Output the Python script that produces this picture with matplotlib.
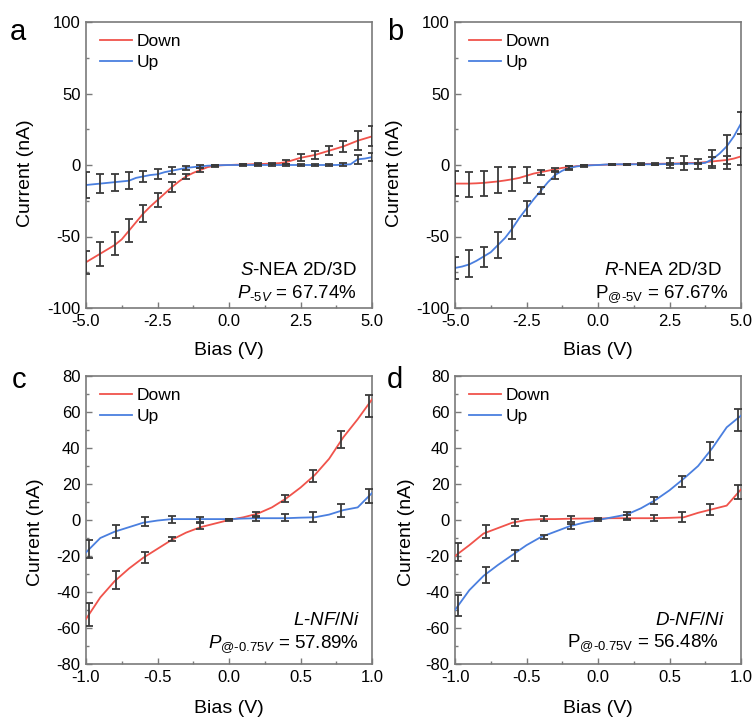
import numpy as np
import matplotlib
matplotlib.use("Agg")
import matplotlib.pyplot as plt
from matplotlib.ticker import MultipleLocator, FormatStrFormatter

plt.rcParams['font.family'] = ['Liberation Sans', 'DejaVu Sans']
plt.rcParams['mathtext.fontset'] = 'custom'
plt.rcParams['mathtext.rm'] = 'Liberation Sans'
plt.rcParams['mathtext.it'] = 'Liberation Sans:italic'
plt.rcParams['mathtext.bf'] = 'Liberation Sans:bold'
plt.rcParams['axes.unicode_minus'] = False

# ---------------- data ----------------
# Panel a (S-NEA 2D/3D)
a_x = [-5.0, -4.75, -4.5, -4.25, -4.0, -3.75, -3.5, -3.25, -3.0, -2.75, -2.5, -2.25, -2.0, -1.75, -1.5,
       -1.25, -1.0, -0.75, -0.5, -0.25, 0.0, 0.25, 0.5, 0.75, 1.0, 1.25, 1.5, 1.75, 2.0, 2.25, 2.5,
       2.75, 3.0, 3.25, 3.5, 3.75, 4.0, 4.25, 4.5, 4.75, 5.0]
a_down = [-68, -65, -62, -59, -56, -52, -46, -40, -34, -29, -24.5, -20, -15.5, -11.5, -8,
          -5.5, -3.5, -1.5, -0.5, -0.2, 0, 0.2, 0.3, 0.5, 0.7, 0.8, 1.0, 1.3, 2.0, 3.5, 5.0,
          6.0, 7.0, 8.5, 10.0, 11.5, 13.0, 15.0, 17.0, 18.5, 20.0]
a_up = [-14, -13.5, -13, -12.5, -12, -11.5, -11, -9, -8, -7, -6.5, -5, -4, -3, -2,
        -1.5, -1, -0.5, -0.3, -0.1, 0, 0, 0, 0, 0, 0, 0, 0, 0, 0, 0,
        0, 0, 0, 0, 0, 0.2, 0.5, 4.0, 4.5, 5.5]
a_bx = [-5.0, -4.5, -4.0, -3.5, -3.0, -2.5, -2.0, -1.5, -1.0, -0.5, 0.5, 1.0, 1.5, 2.0, 2.5, 3.0,
        3.5, 4.0, 4.5, 5.0]
a_down_m = [-68, -62, -55, -46, -34, -24.5, -15.5, -8, -3.5, -0.5, 0.3, 0.7, 1.0, 2.0, 5.5, 7.0,
            10.0, 13.0, 17.0, 20.0]
a_down_e = [8, 8.5, 8, 8, 6, 5, 3.5, 2, 1.5, 0.6, 0.5, 0.5, 0.5, 1.5, 2.5, 2.5,
            3, 4, 6.5, 7]
a_up_m = [-14, -13, -12, -11, -8, -6.5, -4, -2, -1, -0.3, 0, 0, 0, 0, 0, 0,
          0, 0.5, 4.0, 5.5]
a_up_e = [9, 6.5, 6, 6, 4, 3.5, 2.5, 1.5, 1, 0.6, 0.5, 0.5, 0.5, 0.5, 0.5, 0.5,
          0.5, 1.0, 3.0, 3.0]

# Panel b (R-NEA 2D/3D)
b_x = a_x
b_down = [-13, -13, -13, -12.8, -12.5, -12, -11.5, -10.8, -10, -9, -7.5, -6, -5, -4, -3,
          -2, -1.5, -0.8, -0.4, -0.1, 0, 0.2, 0.3, 0.4, 0.5, 0.6, 0.7, 0.8, 0.8, 0.9, 1.0,
          1.1, 1.3, 1.4, 1.5, 2.0, 2.5, 3.0, 3.5, 4.5, 6.0]
b_up = [-72, -71, -69.5, -67, -64, -61, -56, -51, -44.5, -37, -30.5, -24, -18, -12, -7,
        -4, -2, -1, -0.5, -0.2, 0, 0.3, 0.5, 0.5, 0.5, 0.5, 0.5, 0.5, 0.5, 0.6, 0.7,
        0.8, 0.9, 1.0, 1.0, 1.5, 4.0, 8.0, 13.0, 20.0, 29.0]
b_bx = a_bx
b_down_m = [-13, -13.4, -13, -10.5, -9.6, -7, -5.5, -3.5, -1.5, -0.4, 0.3, 0.5, 0.7, 0.8, 1.2, 1.4,
            1.0, 2.5, 3.5, 6.0]
b_down_e = [9, 8.7, 8.5, 9.3, 8.4, 5.8, 1.8, 1.5, 1.0, 0.5, 0.5, 0.5, 0.5, 0.5, 3.5, 4.9,
            3.5, 3.0, 3.0, 6.0]
b_up_m = [-72, -69, -64, -56, -44.8, -30.5, -18, -7, -2, -0.5, 0.5, 0.5, 0.5, 0.5, 0.7, 0.9,
          1.0, 4.0, 9.0, 29.5]
b_up_e = [8, 9.5, 7, 9, 7, 5, 2.5, 3, 1.2, 0.6, 0.5, 0.5, 0.5, 0.5, 0.5, 0.5,
          0.5, 6.4, 12.0, 7.6]

# Panel c (L-NF/Ni)
c_x = [-1.0, -0.9, -0.8, -0.7, -0.6, -0.5, -0.4, -0.3, -0.2, -0.1, 0.0,
       0.1, 0.2, 0.3, 0.4, 0.5, 0.6, 0.7, 0.8, 0.9, 1.0]
c_down = [-55, -43, -34, -27, -21, -16, -11, -7, -4, -2, 0,
          1.5, 3.5, 7, 12, 18, 25, 34, 46, 56, 67]
c_up = [-18, -10, -6.5, -4, -1.5, -0.3, 0.5, 0.5, 0.5, 0.5, 0.5,
        0.8, 1.0, 1.0, 1.0, 1.3, 1.5, 3.0, 5.5, 7.0, 15.0]
c_bx = [-0.98, -0.79, -0.59, -0.40, -0.20, 0.0, 0.19, 0.39, 0.59, 0.78, 0.98]
c_down_m = [-52.5, -33.5, -21, -10.5, -3.5, 0, 3.3, 12, 24.5, 44.5, 63.5]
c_down_e = [6.5, 5, 3, 1.3, 1.7, 0.3, 1.4, 1.8, 3.3, 4.7, 6.2]
c_up_m = [-16, -6.5, -1, 0.5, 0.3, 0.3, 1, 1.3, 1.5, 5.3, 13.5]
c_up_e = [5, 3.7, 2.5, 2, 1.5, 0.3, 1.5, 2, 2.7, 3.5, 4]

# Panel d (D-NF/Ni)
d_x = c_x
d_down = [-20, -14, -7.5, -4.5, -1.5, 0, 0.5, 0.5, 0.7, 0.8, 0.8,
          1.0, 1.0, 1.0, 1.0, 1.2, 1.5, 4.0, 6.0, 8.0, 17.0]
d_up = [-50, -39, -31, -25, -19.5, -14, -9.5, -6.5, -3.5, -1.5, 0,
        1.5, 3.0, 6.5, 11.0, 16.5, 23.0, 30.0, 40.0, 51.5, 58.0]
d_bx = [-0.98, -0.78, -0.58, -0.38, -0.19, 0.0, 0.20, 0.39, 0.59, 0.78, 0.98]
d_down_m = [-18, -6.5, -1.5, 0.7, 0.5, 0.8, 1.5, 1.0, 1.5, 6, 15.5]
d_down_e = [5, 3.5, 2, 1.5, 1.5, 0.3, 1.5, 1.8, 2.7, 3, 4]
d_up_m = [-47.5, -30.5, -19.5, -9.5, -3.5, 0, 2.5, 11, 21.5, 38.5, 55.5]
d_up_e = [6, 4.5, 3, 1.3, 1.5, 0.3, 2, 2, 3.2, 5, 6.2]

RED = '#f0534b'
BLUE = '#4a7fdf'
BAR = '#3a3a3a'
SPINE = '#7a7a7a'
HY = '\u2010'  # plain hyphen inside math text

fig = plt.figure(figsize=(7.55, 7.18), dpi=100)

W, H = 755.0, 718.0
def rect(l, t, r, b):
    return [l / W, 1 - b / H, (r - l) / W, (b - t) / H]

panels = [
    dict(rect=rect(86, 22, 372, 308), x=a_x, down=a_down, up=a_up, bx=a_bx,
         dm=a_down_m, de=a_down_e, um=a_up_m, ue=a_up_e,
         xlim=(-5, 5), ylim=(-100, 100), xmaj=2.5, xmin=1.25, ymaj=50, ymin=25,
         t1=r'$\mathit{S}$-NEA 2D/3D', t2=r'$P_{\mathit{' + HY + r'5V}}$ = 67.74%',
         t1pos=(0.948, 0.115), t2pos=(0.948, 0.036), ylc=(-0.213, 0.472), label='a'),
    dict(rect=rect(455, 22, 741, 308), x=b_x, down=b_down, up=b_up, bx=b_bx,
         dm=b_down_m, de=b_down_e, um=b_up_m, ue=b_up_e,
         xlim=(-5, 5), ylim=(-100, 100), xmaj=2.5, xmin=1.25, ymaj=50, ymin=25,
         t1=r'$\mathit{R}$-NEA 2D/3D', t2=r'P$_{\mathrm{@' + HY + r'5V}}$ = 67.67%',
         t1pos=(0.9325, 0.115), t2pos=(0.955, 0.036), ylc=(-0.21, 0.472), label='b'),
    dict(rect=rect(86, 376, 372, 664), x=c_x, down=c_down, up=c_up, bx=c_bx,
         dm=c_down_m, de=c_down_e, um=c_up_m, ue=c_up_e,
         xlim=(-1, 1), ylim=(-80, 80), xmaj=0.5, xmin=0.25, ymaj=20, ymin=10,
         t1=r'$\mathit{L}$' + r'$\mathit{' + HY + r'NF/Ni}$',
         t2=r'$P_{\mathit{@' + HY + r'0.75V}}$ = 57.89%',
         t1pos=(0.958, 0.135), t2pos=(0.955, 0.054), ylc=(-0.175, 0.457), label='c'),
    dict(rect=rect(455, 376, 741, 664), x=d_x, down=d_down, up=d_up, bx=d_bx,
         dm=d_down_m, de=d_down_e, um=d_up_m, ue=d_up_e,
         xlim=(-1, 1), ylim=(-80, 80), xmaj=0.5, xmin=0.25, ymaj=20, ymin=10,
         t1=r'$\mathit{D}$' + r'$\mathit{' + HY + r'NF/Ni}$',
         t2=r'P$_{\mathrm{@' + HY + r'0.75V}}$ = 56.48%',
         t1pos=(0.944, 0.135), t2pos=(0.92, 0.06), ylc=(-0.171, 0.457), label='d'),
]

label_pos = {'a': (10, 40), 'b': (387, 40), 'c': (12, 388), 'd': (387, 388)}

for p in panels:
    ax = fig.add_axes(p['rect'])
    ax.plot(p['x'], p['down'], color=RED, lw=1.3, label='Down', zorder=3)
    ax.plot(p['x'], p['up'], color=BLUE, lw=1.3, label='Up', zorder=3)
    ax.errorbar(p['bx'], p['dm'], yerr=p['de'], fmt='none', ecolor=BAR, elinewidth=1.3,
                capsize=3, capthick=1.3, zorder=4)
    ax.errorbar(p['bx'], p['um'], yerr=p['ue'], fmt='none', ecolor=BAR, elinewidth=1.3,
                capsize=3, capthick=1.3, zorder=4)
    ax.set_xlim(*p['xlim'])
    ax.set_ylim(*p['ylim'])
    ax.xaxis.set_major_locator(MultipleLocator(p['xmaj']))
    ax.xaxis.set_minor_locator(MultipleLocator(p['xmin']))
    ax.yaxis.set_major_locator(MultipleLocator(p['ymaj']))
    ax.yaxis.set_minor_locator(MultipleLocator(p['ymin']))
    ax.xaxis.set_major_formatter(FormatStrFormatter('%.1f'))
    ax.tick_params(which='major', direction='in', length=4, width=1.0, color=SPINE,
                   labelsize=12, pad=4)
    ax.tick_params(which='minor', direction='in', length=2.5, width=1.0, color=SPINE)
    for s in ax.spines.values():
        s.set_color(SPINE)
        s.set_linewidth(1.2)
    ax.set_xlabel('Bias (V)', fontsize=14)
    ax.set_ylabel('Current (nA)', fontsize=14)
    ax.xaxis.set_label_coords(0.5, -0.15 if p['label'] in 'ab' else -0.153)
    ax.xaxis.label.set_va('center')
    ax.yaxis.set_label_coords(*p['ylc'])
    ax.yaxis.label.set_va('center')
    ax.legend(loc='upper left', bbox_to_anchor=(0.048, 0.96), frameon=False,
              fontsize=12.5, handlelength=1.85, handletextpad=0.3,
              labelspacing=0.36, borderpad=0.0, borderaxespad=0.0)
    ax.text(p['t1pos'][0], p['t1pos'][1], p['t1'], transform=ax.transAxes,
            ha='right', va='baseline', fontsize=13.5)
    ax.text(p['t2pos'][0], p['t2pos'][1], p['t2'], transform=ax.transAxes,
            ha='right', va='baseline', fontsize=13.5)
    lx, ly = label_pos[p['label']]
    fig.text(lx / W, 1 - ly / H, p['label'], fontsize=21, ha='left', va='baseline')

fig.savefig('out.png', dpi=100)
